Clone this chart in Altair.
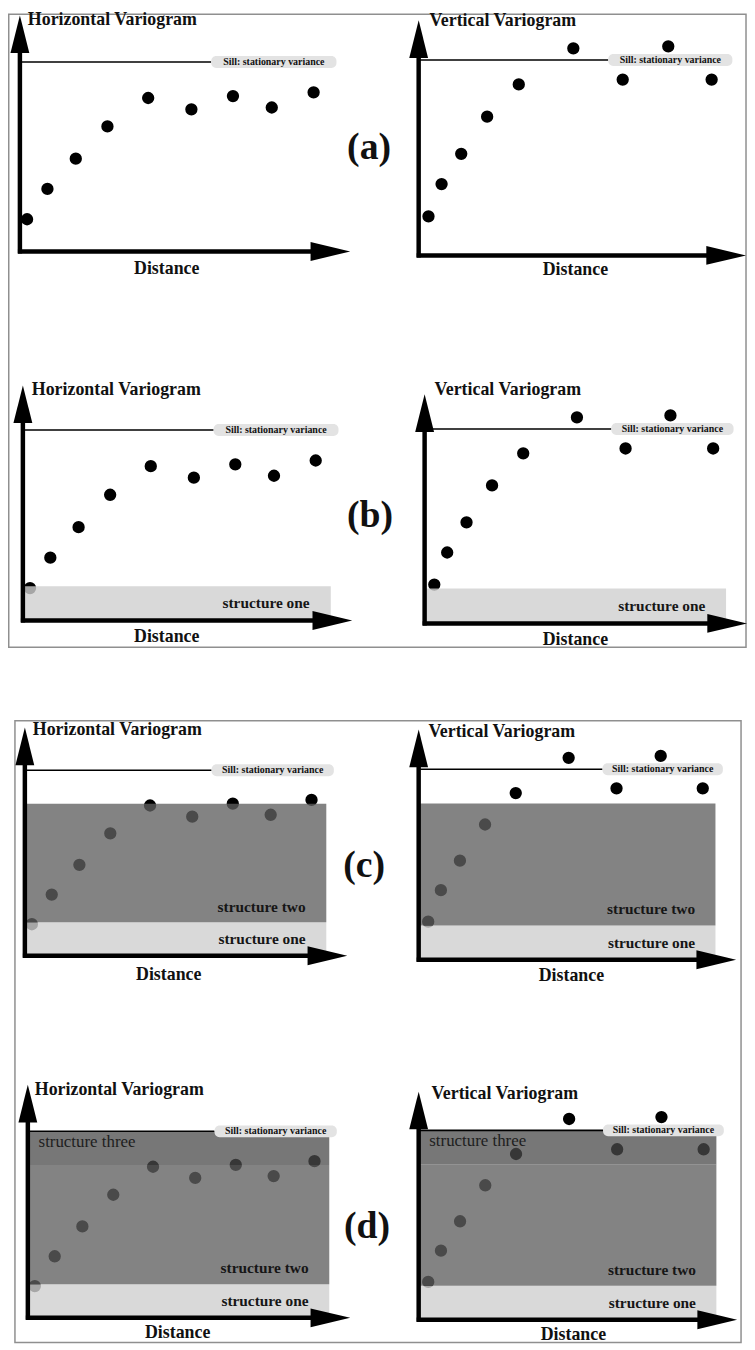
import altair as alt
import pandas as pd

# ---------------- data ----------------
H_DIST = [0.26, 1.0, 2.03, 3.18, 4.66, 6.23, 7.74, 9.15, 10.67]
H_GAMMA = [0.17, 0.33, 0.49, 0.66, 0.81, 0.75, 0.82, 0.76, 0.84]
V_DIST = [0.36, 0.84, 1.56, 2.51, 3.67, 5.67, 7.48, 9.15, 10.74]
V_GAMMA = [0.20, 0.365, 0.52, 0.71, 0.875, 1.06, 0.90, 1.07, 0.90]
SILL = 1.0
STRUCT_NAMES = ["structure one", "structure two", "structure three"]
STRUCT_TOPS = [0.18, 0.82, 1.0]
STRUCT_COUNTS = [0, 1, 2, 3]          # structures shown in rows (a)..(d)
PANEL_LETTERS = ["(a)", "(b)", "(c)", "(d)"]
TITLES = ["Horizontal Variogram", "Vertical Variogram"]
X_LABEL = "Distance"
SILL_LABEL = "Sill: stationary variance"

# ---------------- layout / style ----------------
SERIF = "Liberation Serif"
XMAX = 12.0                      # axis length in distance units
BAND_RIGHT = 11.22
SILL_BOX = (6.95, 11.5)
BAND_FILLS = ["#cfcfcf", "#5f5f5f", "#4a4a4a"]
BAND_OPAC = [0.8, 0.75, 0.88]
BAND_LABEL_POS = {"structure one": (10.45, 0.09),
                  "structure two": (10.45, 0.265),
                  "structure three": (0.4, 0.945)}
OFF = 8
W, HGT = 745, 1342

PANELS = [
    dict(row=0, col=0, ox=20, oy=248, xtip=353, ytip=10, sy=57, tx=28, ty=15, dx=168, dy=266),
    dict(row=0, col=1, ox=422, oy=252, xtip=752, ytip=15, sy=55, tx=433, ty=16, dx=580, dy=267),
    dict(row=1, col=0, ox=23, oy=620, xtip=355, ytip=383, sy=428, tx=32, ty=388, dx=168, dy=637),
    dict(row=1, col=1, ox=428, oy=623, xtip=753, ytip=392, sy=427, tx=438, ty=388, dx=580, dy=640),
    dict(row=2, col=0, ox=25, oy=958, xtip=350, ytip=728, sy=771, tx=33, ty=730, dx=170, dy=977),
    dict(row=2, col=1, ox=422, oy=962, xtip=742, ytip=730, sy=770, tx=432, ty=732, dx=576, dy=978),
    dict(row=3, col=0, ox=28, oy=1323, xtip=353, ytip=1088, sy=1135, tx=35, ty=1093, dx=179, dy=1338),
    dict(row=3, col=1, ox=422, oy=1325, xtip=743, ytip=1095, sy=1134, tx=435, ty=1097, dx=578, dy=1340),
]
LETTER_POS = [(372, 144), (373, 515), (367, 868), (370, 1232)]
BOXES = [dict(x0=7, y0=5, x1=752, y1=647), dict(x0=15, y0=721, x1=747, y1=1348)]


def px(v):
    return v - OFF


layers = []

# frames around the two figure groups
frames = pd.DataFrame([dict(x=max(px(b["x0"]), 0.75), x2=min(px(b["x1"]), W - 0.75),
                            y=max(px(b["y0"]), 0.75), y2=min(px(b["y1"]), HGT - 0.75)) for b in BOXES])
layers.append(alt.Chart(frames).mark_rect(fillOpacity=0, stroke="#8f8f8f", strokeWidth=1.5).encode(
    x=alt.X("x:Q", scale=None), x2="x2:Q", y=alt.Y("y:Q", scale=None), y2="y2:Q"))

for p in PANELS:
    dist, gam = (H_DIST, H_GAMMA) if p["col"] == 0 else (V_DIST, V_GAMMA)
    xs = alt.Scale(domain=[0, XMAX], range=[px(p["ox"]), px(p["xtip"])], nice=False, zero=False)
    ys = alt.Scale(domain=[0, SILL], range=[px(p["oy"]), px(p["sy"])], nice=False, zero=False)

    def X(f, xs=xs):
        return alt.X(f, scale=xs, axis=None)

    def Y(f, ys=ys):
        return alt.Y(f, scale=ys, axis=None)

    pts = pd.DataFrame({"distance": dist, "gamma": gam})
    layers.append(alt.Chart(pts).mark_circle(size=154, color="black", opacity=1).encode(
        x=X("distance:Q"), y=Y("gamma:Q")))

    n = STRUCT_COUNTS[p["row"]]
    if n:
        bands = pd.DataFrame({"name": STRUCT_NAMES[:n],
                              "lo": [0.0] + STRUCT_TOPS[:n - 1],
                              "hi": STRUCT_TOPS[:n],
                              "x0": [0.0] * n, "x1": [BAND_RIGHT] * n})
        layers.append(alt.Chart(bands).mark_rect().encode(
            x=X("x0:Q"), x2="x1:Q", y=Y("lo:Q"), y2="hi:Q",
            color=alt.Color("name:N", scale=alt.Scale(domain=STRUCT_NAMES, range=BAND_FILLS), legend=None),
            opacity=alt.Opacity("name:N", scale=alt.Scale(domain=STRUCT_NAMES, range=BAND_OPAC), legend=None)))

    sill = pd.DataFrame({"x0": [0.0], "x1": [SILL_BOX[0]], "g": [SILL],
                         "b0": [SILL_BOX[0]], "b1": [SILL_BOX[1]],
                         "bm": [(SILL_BOX[0] + SILL_BOX[1]) / 2]})
    layers.append(alt.Chart(sill).mark_rule(color="black", strokeWidth=1.6).encode(
        x=X("x0:Q"), x2="x1:Q", y=Y("g:Q")))
    layers.append(alt.Chart(sill).mark_rect(color="#e3e3e3", cornerRadius=5, yOffset=-6, y2Offset=6).encode(
        x=X("b0:Q"), x2="b1:Q", y=Y("g:Q"), y2="g:Q"))
    layers.append(alt.Chart(sill).mark_text(text=SILL_LABEL, font=SERIF, fontSize=10, fontWeight="bold",
                                            align="center", baseline="middle", color="#111").encode(
        x=X("bm:Q"), y=Y("g:Q")))

    if n:
        right_names = [s for s in STRUCT_NAMES[:n] if BAND_LABEL_POS[s][0] > 5]
        left_names = [s for s in STRUCT_NAMES[:n] if BAND_LABEL_POS[s][0] <= 5]
        rdf = pd.DataFrame({"name": right_names,
                            "lx": [BAND_LABEL_POS[s][0] for s in right_names],
                            "ly": [BAND_LABEL_POS[s][1] for s in right_names]})
        layers.append(alt.Chart(rdf).mark_text(font=SERIF, fontSize=15.5, fontWeight="bold", align="right",
                                               baseline="middle", color="#161616").encode(
            x=X("lx:Q"), y=Y("ly:Q"), text="name:N"))
        if left_names:
            ldf = pd.DataFrame({"name": left_names,
                                "lx": [BAND_LABEL_POS[s][0] for s in left_names],
                                "ly": [BAND_LABEL_POS[s][1] for s in left_names]})
            layers.append(alt.Chart(ldf).mark_text(font=SERIF, fontSize=17, align="left",
                                                   baseline="middle", color="#1e1e1e").encode(
                x=X("lx:Q"), y=Y("ly:Q"), text="name:N"))

# axes (thick lines + arrowheads)
axes_rows, yarrows, xarrows, titles, dlabels = [], [], [], [], []
for p in PANELS:
    axes_rows.append(dict(x=px(p["ox"]), x2=px(p["ox"]), y=px(p["oy"] + 2), y2=px(p["ytip"] + 30)))
    axes_rows.append(dict(x=px(p["ox"] - 2), x2=px(p["xtip"] - 30), y=px(p["oy"]), y2=px(p["oy"])))
    yarrows.append(dict(x=px(p["ox"]), y=px(p["ytip"] + 19)))
    xarrows.append(dict(x=px(p["xtip"] - 20), y=px(p["oy"])))
    titles.append(dict(x=px(p["tx"]), y=px(p["ty"]), t=TITLES[p["col"]]))
    dlabels.append(dict(x=px(p["dx"]), y=px(p["dy"]), t=X_LABEL))

layers.append(alt.Chart(pd.DataFrame(axes_rows)).mark_rule(color="black", strokeWidth=4.5).encode(
    x=alt.X("x:Q", scale=None), x2="x2:Q", y=alt.Y("y:Q", scale=None), y2="y2:Q"))
layers.append(alt.Chart(pd.DataFrame(yarrows)).mark_point(
    shape="M0,-1L0.5,1L-0.5,1Z", size=1444, filled=True, color="black", opacity=1, strokeWidth=0).encode(
    x=alt.X("x:Q", scale=None), y=alt.Y("y:Q", scale=None)))
layers.append(alt.Chart(pd.DataFrame(xarrows)).mark_point(
    shape="M1,0L-1,-0.475L-1,0.475Z", size=1600, filled=True, color="black", opacity=1, strokeWidth=0).encode(
    x=alt.X("x:Q", scale=None), y=alt.Y("y:Q", scale=None)))
layers.append(alt.Chart(pd.DataFrame(titles)).mark_text(
    font=SERIF, fontSize=18, fontWeight="bold", align="left", baseline="middle", color="#111").encode(
    x=alt.X("x:Q", scale=None), y=alt.Y("y:Q", scale=None), text="t:N"))
layers.append(alt.Chart(pd.DataFrame(dlabels)).mark_text(
    font=SERIF, fontSize=18, fontWeight="bold", align="center", baseline="middle", color="#111").encode(
    x=alt.X("x:Q", scale=None), y=alt.Y("y:Q", scale=None), text="t:N"))
letters = pd.DataFrame({"x": [px(a) for a, b in LETTER_POS], "y": [px(b) for a, b in LETTER_POS],
                        "t": PANEL_LETTERS})
layers.append(alt.Chart(letters).mark_text(
    font=SERIF, fontSize=38, fontWeight="bold", align="center", baseline="middle", color="#111").encode(
    x=alt.X("x:Q", scale=None), y=alt.Y("y:Q", scale=None), text="t:N"))

chart = alt.layer(*layers).resolve_scale(x="independent", y="independent").properties(
    width=W, height=HGT, padding=0, autosize=alt.AutoSizeParams(type="none"),
    background="white").configure_view(stroke=None)

chart.save("out.html", embed_options={"renderer": "svg", "actions": False})
